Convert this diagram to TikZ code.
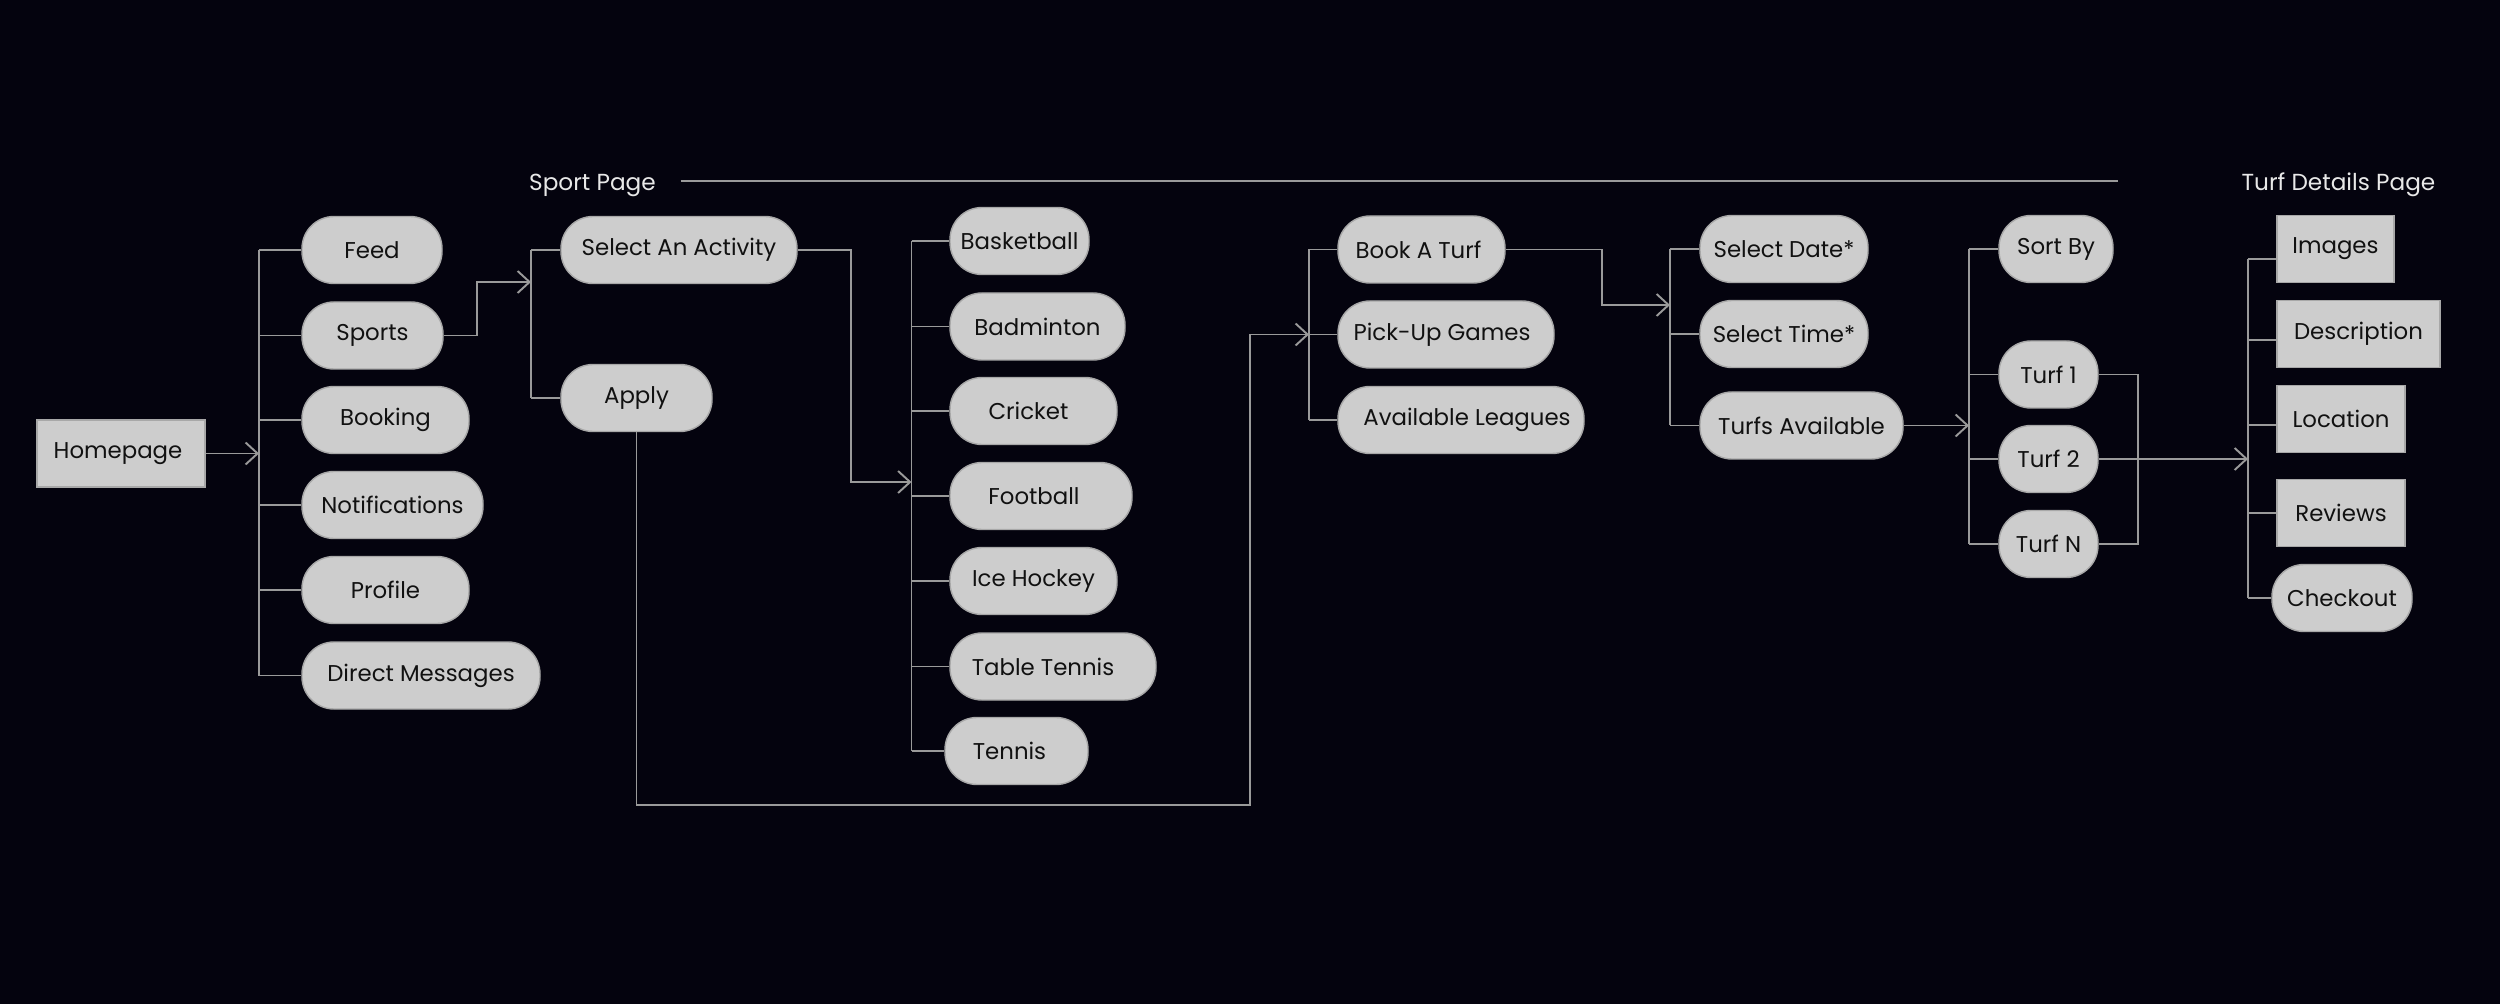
\documentclass[tikz,border=0pt]{standalone}
\usepackage{fontspec}
\setmainfont{Poppins}
\usetikzlibrary{arrows.meta,calc}
\definecolor{bg}{HTML}{04030E}
\definecolor{pillfill}{HTML}{CDCDCD}
\definecolor{pillborder}{HTML}{A8A8A8}
\definecolor{linegray}{HTML}{9A9A9A}
\definecolor{titlecol}{HTML}{E8E8E8}
\definecolor{txt}{HTML}{111111}
\tikzset{
  base/.style={fill=pillfill, draw=pillborder, line width=0.4pt, text=txt, inner sep=0pt,
    minimum height=6.7mm, font=\fontsize{6.5}{7}\selectfont},
  pill/.style={base, rounded corners=3.2mm},
  boxnode/.style={base},
  link/.style={draw=linegray, line width=0.55pt},
  arr/.style={link, -{Straight Barb[length=1.2mm,width=2.2mm]}},
  title/.style={text=titlecol, font=\fontsize{6.6}{7}\selectfont, inner sep=0pt}
}
\begin{document}
\begin{tikzpicture}[x=0.1mm,y=-0.1mm]
\fill[bg] (0,0) rectangle (2500,1004);
\useasboundingbox (0,0) rectangle (2500,1004);

% titles
\node[title] (sp) at (592.5,185) {Sport Page};
\node[title] (tdp) at (2338.5,185) {Turf Details Page};
\coordinate (tlend) at (2118,181);
\draw[link] ($(sp.east)+(24,-4)$) -- (tlend);

% column 1
\node[boxnode, minimum width=16.8mm] (home) at (121,453.5) {\kern-0.6mm Homepage};

% column 2
\node[pill, minimum width=14mm] (feed) at (372,250) {Feed};
\node[pill, minimum width=14.1mm] (sports) at (372.5,335.5) {Sports};
\node[pill, minimum width=16.7mm] (booking) at (385.5,420) {Booking};
\node[pill, minimum width=18.1mm] (notif) at (392.5,505) {Notifications};
\node[pill, minimum width=16.7mm] (profile) at (385.5,590) {Profile};
\node[pill, minimum width=23.8mm] (dm) at (421,675.5) {Direct Messages};

% column 3
\node[pill, minimum width=23.6mm] (select) at (679,250) {Select An Activity};
\node[pill, minimum width=15.1mm] (apply) at (636.5,398) {Apply};

% column 4
\node[pill, minimum width=13.9mm] (basket) at (1019.5,241) {Basketball};
\node[pill, minimum width=17.5mm] (badm) at (1037.5,326.5) {Badminton};
\node[pill, minimum width=16.7mm] (cricket) at (1033.5,411) {\kern-1mm Cricket};
\node[pill, minimum width=18.2mm] (football) at (1041,496) {\kern-1.4mm Football};
\node[pill, minimum width=16.7mm] (ice) at (1033.5,581) {Ice Hockey};
\node[pill, minimum width=20.6mm] (ttennis) at (1053,666.5) {\kern-2mm Table Tennis};
\node[pill, minimum width=14.3mm] (tennis) at (1016.5,751) {\kern-1.4mm Tennis};

% column 5
\node[pill, minimum width=16.7mm] (book) at (1421.5,249.5) {\kern-0.6mm Book A Turf};
\node[pill, minimum width=21.6mm] (pickup) at (1446,334.5) {\kern-0.8mm Pick-Up Games};
\node[pill, minimum width=24.6mm] (leagues) at (1461,420) {\kern1.2mm Available Leagues};

% column 6
\node[pill, minimum width=16.8mm] (date) at (1784,249) {Select Date*};
\node[pill, minimum width=16.8mm] (time) at (1784,334) {Select Time*};
\node[pill, minimum width=20.3mm] (turfs) at (1801.5,425.5) {Turfs Available};

% column 7
\node[pill, minimum width=11.4mm] (sort) at (2056,249) {Sort By};
\node[pill, minimum width=9.9mm] (t1) at (2048.5,374.5) {Turf 1};
\node[pill, minimum width=9.9mm] (t2) at (2048.5,459) {Turf 2};
\node[pill, minimum width=9.9mm] (tn) at (2048.5,544) {Turf N};

% column 8
\node[boxnode, minimum width=11.7mm] (images) at (2335.5,249) {Images};
\node[boxnode, minimum width=16.3mm] (desc) at (2358.5,334) {Description};
\node[boxnode, minimum width=12.8mm] (loc) at (2341,419) {Location};
\node[boxnode, minimum width=12.8mm] (rev) at (2341,513) {Reviews};
\node[pill, minimum width=14mm] (checkout) at (2342,598) {Checkout};

% bus 1
\coordinate (b1) at (259,453.5);
\draw[arr] (home.east) -- (b1);
\draw[link] (b1 |- feed.west) -- (b1 |- dm.west);
\foreach \n in {feed,sports,booking,notif,profile,dm}
  \draw[link] (b1 |- \n.west) -- (\n.west);

% bus 2
\coordinate (b2) at (531,282);
\draw[arr] (sports.east) -- ++(33,0) |- (b2);
\draw[link] (b2 |- select.west) -- (b2 |- apply.west);
\foreach \n in {select,apply}
  \draw[link] (b2 |- \n.west) -- (\n.west);

% bus 3
\coordinate (b3) at (911.5,482);
\draw[arr] (select.east) -- ++(53,0) |- (b3);
\draw[link] (b3 |- basket.west) -- (b3 |- tennis.west);
\foreach \n in {basket,badm,cricket,football,ice,ttennis,tennis}
  \draw[link] (b3 |- \n.west) -- (\n.west);

% bus 4
\coordinate (b4) at (1309,334.5);
\coordinate (c4) at (1250,805);
\draw[arr] (apply.south) |- (c4) |- (b4);
\draw[link] (b4 |- book.west) -- (b4 |- leagues.west);
\foreach \n in {book,pickup,leagues}
  \draw[link] (b4 |- \n.west) -- (\n.west);

% bus 5
\coordinate (b5) at (1670,305);
\draw[arr] (book.east) -- ++(96,0) |- (b5);
\draw[link] (b5 |- date.west) -- (b5 |- turfs.west);
\foreach \n in {date,time,turfs}
  \draw[link] (b5 |- \n.west) -- (\n.west);

% bus 6
\coordinate (b6) at (1969,425.5);
\draw[arr] (turfs.east) -- (b6);
\draw[link] (b6 |- sort.west) -- (b6 |- tn.west);
\foreach \n in {sort,t1,t2,tn}
  \draw[link] (b6 |- \n.west) -- (\n.west);

% merge of turfs
\coordinate (m7) at (2138,459);
\draw[link] (t1.east) -| (m7) |- (tn.east);
\coordinate (b7) at (2248,459);
\draw[arr] (t2.east) -- (b7);
\coordinate (i7) at ($(images.west)+(0,10)$);
\coordinate (d7) at ($(desc.west)+(0,6)$);
\coordinate (l7) at ($(loc.west)+(0,6)$);
\draw[link] (b7 |- i7) -- (b7 |- checkout.west);
\draw[link] (b7 |- i7) -- (i7);
\draw[link] (b7 |- d7) -- (d7);
\draw[link] (b7 |- l7) -- (l7);
\draw[link] (b7 |- rev.west) -- (rev.west);
\draw[link] (b7 |- checkout.west) -- (checkout.west);
\end{tikzpicture}
\end{document}
